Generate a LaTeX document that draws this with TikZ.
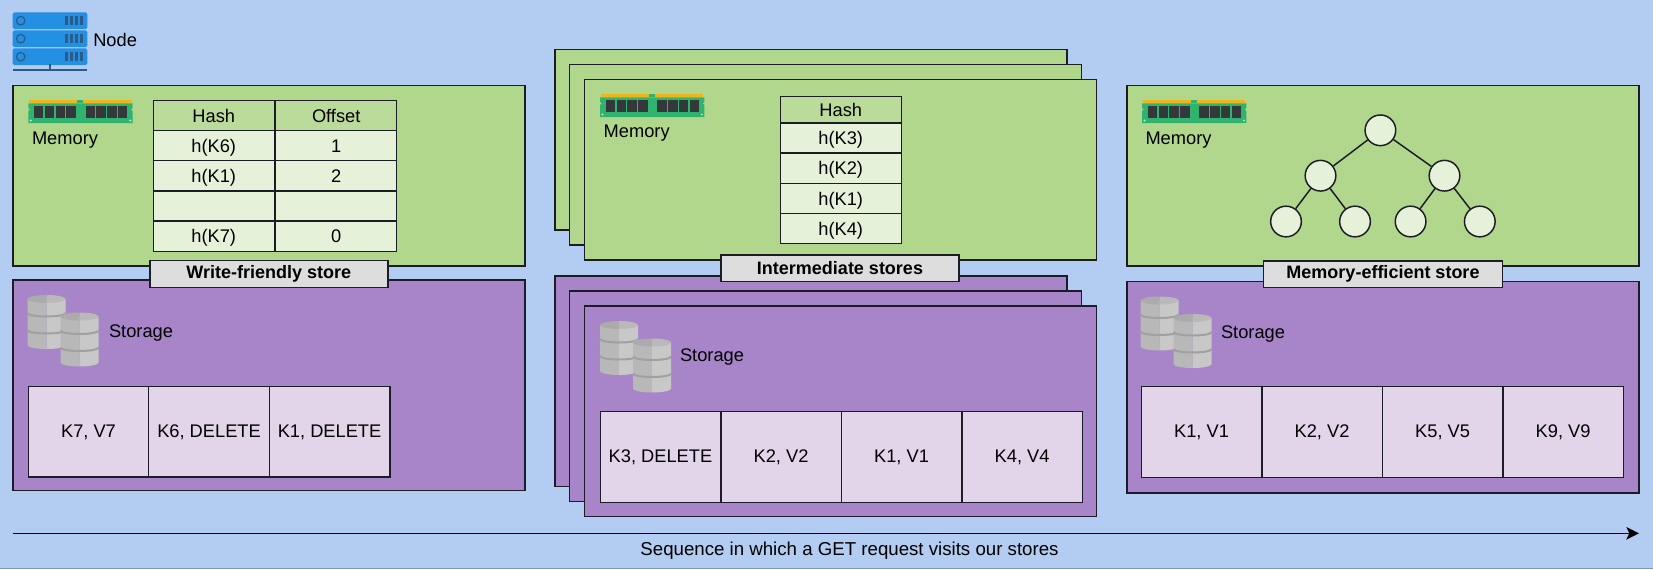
\documentclass[tikz,border=0pt]{standalone}
\usepackage{fontspec}
\setmainfont{Liberation Sans}
\usepackage{xcolor}
\usetikzlibrary{backgrounds}
\usetikzlibrary{arrows.meta,positioning,matrix}
\definecolor{page_background}{HTML}{B3CCF1}
\definecolor{page_edge}{HTML}{8498B6}
\definecolor{memory_fill}{HTML}{B1D78D}
\definecolor{storage_fill}{HTML}{A884C8}
\definecolor{cell_fill}{HTML}{E2D5EA}
\definecolor{row_fill}{HTML}{E6F1D9}
\definecolor{header_fill}{HTML}{BBDB9A}
\definecolor{label_fill}{HTML}{DDDDDD}
\definecolor{edge_colour}{HTML}{1C1C26}
\definecolor{ram_green}{HTML}{2FB36E}
\definecolor{ram_gold}{HTML}{F0B41C}
\definecolor{ram_chip}{HTML}{33383A}
\definecolor{server_blue}{HTML}{2390E3}
\definecolor{server_dark}{HTML}{2B5B87}
\definecolor{disk_dark}{HTML}{B8B8B8}
\definecolor{disk_light}{HTML}{C8C8C8}
\definecolor{disk_top_dark}{HTML}{ABABAB}
\definecolor{disk_top_light}{HTML}{B9B9B9}
\definecolor{disk_band}{HTML}{A0A0A0}
\tikzstyle{outer_box} =[draw=edge_colour,line width=1.1pt,anchor=north west,inner sep=0pt,outer sep=0pt]
\tikzstyle{memory_box} =[outer_box,fill=memory_fill,minimum width=384pt,minimum height=135.5pt]
\tikzstyle{storage_box} =[outer_box,fill=storage_fill,minimum width=384pt]
\tikzstyle{cell} =[draw=edge_colour,line width=1.1pt,fill=cell_fill,inner sep=0pt,outer sep=0pt,minimum width=90.4pt,minimum height=68pt,text height=10.4pt,text depth=1.9pt]
\tikzstyle{table_row} =[draw=edge_colour,line width=1.1pt,fill=row_fill,inner sep=0pt,minimum width=90.75pt,minimum height=22.65pt,text height=11.4pt,text depth=1.4pt]
\tikzstyle{table_header} =[table_row,fill=header_fill]
\tikzstyle{store_label} =[draw=edge_colour,line width=1.1pt,fill=label_fill,inner sep=0pt,minimum height=20pt,font=\fontsize{13.5}{16}\selectfont\bfseries]
\tikzstyle{tree_node} =[circle,draw=edge_colour,line width=1.1pt,fill=row_fill,inner sep=0pt,minimum size=23pt]
\tikzset{
server_icon/.pic={
    \foreach \top in {0,18,36}{
        \fill[server_blue,rounded corners=1.2pt] (0,\top) rectangle (74.6,\top+16.8);
        \draw[server_dark,line width=0.9pt] (8,\top+8.4) circle (3.2pt);
        \foreach \bar in {52.5,57.5,62.5,67.5}
            \fill[server_dark] (\bar,\top+4) rectangle (\bar+2.4,\top+12.8);
    }
    \fill[server_dark] (35.8,52) rectangle (37.8,57);
    \fill[server_dark] (0,56.5) rectangle (74.6,58.7);
},
ram_icon/.pic={
    \fill[ram_green] (0,3.3) -- (104.4,3.3) -- (104.4,8) -- (102.6,9.5) -- (104.4,11) -- (104.4,23) -- (0,23)
        -- (0,11) -- (1.8,9.5) -- (0,8) -- cycle;
    \fill[ram_green] (49,0) rectangle (55,3.3);
    \fill[ram_gold] (1,0) rectangle (49,3.3);
    \fill[ram_gold] (55,0) rectangle (103.4,3.3);
    \foreach \chip in {5.7,16.5,27.3,38.1,57.3,68.1,78.9,89.7}
        \fill[ram_chip] (\chip,5.7) rectangle (\chip+9.4,18);
    \fill[white!70!ram_green] (2.5,20.5) circle (0.8pt) (101.9,20.5) circle (0.8pt);
},
disk/.pic={
    % body, two halves
    \fill[disk_dark] (0,4) -- (0,50) arc[start angle=180,end angle=90,x radius=19,y radius=4] -- (19,4) -- cycle;
    \fill[disk_light] (38,4) -- (38,50) arc[start angle=0,end angle=90,x radius=19,y radius=4] -- (19,4) -- cycle;
    % top face
    \fill[disk_top_dark] (0,4) arc[start angle=180,end angle=90,x radius=19,y radius=4] -- (19,0) arc[start angle=270,end angle=180,x radius=19,y radius=4] -- cycle;
    \fill[disk_top_light] (38,4) arc[start angle=0,end angle=90,x radius=19,y radius=4] -- (19,0) arc[start angle=270,end angle=360,x radius=19,y radius=4] -- cycle;
    % bands
    \draw[disk_band,line width=1.5pt] (0,18) arc[start angle=180,end angle=0,x radius=19,y radius=3.5];
    \draw[disk_band,line width=1.5pt] (0,35) arc[start angle=180,end angle=0,x radius=19,y radius=3.5];
},
database_icon/.pic={
    \pic at (0,0) {disk};
    \pic at (33,17.5) {disk};
}
}
\begin{document}
\begin{tikzpicture}[x=0.75pt,y=-0.75pt,font=\fontsize{13.7}{16}\selectfont,text=black]

    \useasboundingbox (0,0) rectangle (1653,569);
    \fill[page_background] (0,0) rectangle (1653,569);
    \draw[page_edge,line width=0.9pt] (0,568.6) -- (1653,568.6);

    % Node legend
    \pic at (12.7,12.3) {server_icon};
    \node[anchor=west,inner sep=0pt] (node_label) at (93,39.5) {Node};

    % Write-friendly store
    \node[memory_box] (write_memory_box) at (13,85.5) {};
    \node[storage_box,minimum height=158pt] (write_storage_box) at (13,280) {};
    \pic at (28.3,100) {ram_icon};
    \node (write_memory_label) at (65,140) {Memory};
    \matrix [column sep=0pt,row sep=-1.1pt,anchor=north west,inner sep=0pt,outer sep=0pt](write_hash_matrix) at (152.5,99.5)
    {
        \node[table_header]{Hash};  & \node[table_header]{Offset}; \\
        \node[table_row]{h(K6)};    & \node[table_row]{1};         \\
        \node[table_row]{h(K1)};    & \node[table_row]{2};         \\
        \node[table_row]{};         & \node[table_row]{};          \\
        \node[table_row]{h(K7)};    & \node[table_row]{0};         \\
    };
    \pic at (27.5,295) {database_icon};
    \node (write_storage_label) at (141,333) {Storage};
    \matrix [column sep=-1.1pt,anchor=north west,inner sep=0pt,outer sep=0pt](write_cell_matrix) at (27.5,385.5)
    {
        \node[cell]{K7, V7}; & \node[cell]{K6, DELETE}; & \node[cell]{K1, DELETE}; \\
    };
    \node[store_label,minimum width=178.5pt] (write_store_label) at (268.8,274) {Write-friendly store};

    % Intermediate stores
    \node[memory_box] (back_memory_box) at (555,49.5) {};
    \node[memory_box] (middle_memory_box) at (569.5,64.5) {};
    \node[memory_box] (front_memory_box) at (584.5,79.5) {};
    \node[storage_box,minimum height=158pt] (back_storage_box) at (555,276) {};
    \node[storage_box,minimum height=158pt] (middle_storage_box) at (569.5,291) {};
    \node[storage_box,minimum height=158pt] (front_storage_box) at (584.5,306) {};
    \pic at (600,94) {ram_icon};
    \node (front_memory_label) at (636.7,133) {Memory};
    \matrix [row sep=-1.1pt,anchor=north west,inner sep=0pt,outer sep=0pt](front_hash_matrix) at (779.5,95.5)
    {
        \node[table_header,minimum height=20pt]{Hash}; \\
        \node[table_row]{h(K3)}; \\
        \node[table_row]{h(K2)}; \\
        \node[table_row]{h(K1)}; \\
        \node[table_row]{h(K4)}; \\
    };
    \pic at (600,321) {database_icon};
    \node (front_storage_label) at (712,357) {Storage};
    \matrix [column sep=-1.1pt,anchor=north west,inner sep=0pt,outer sep=0pt](front_cell_matrix) at (599.5,411)
    {
        \node[cell]{K3, DELETE}; & \node[cell]{K2, V2}; & \node[cell]{K1, V1}; & \node[cell]{K4, V4}; \\
    };
    \node[store_label,minimum width=178.5pt] (middle_store_label) at (840,268.2) {Intermediate stores};

    % Memory-efficient store
    \node[memory_box] (read_memory_box) at (1127.2,85.5) {};
    \node[storage_box,minimum height=158.5pt] (read_storage_box) at (1126.8,281.5) {};
    \pic at (1142,100) {ram_icon};
    \node (read_memory_label) at (1178.5,140.5) {Memory};
    \node[tree_node] (tree_root) at (1380.4,130.3) {};
    \node[tree_node] (tree_left) at (1320.5,175.7) {};
    \node[tree_node] (tree_right) at (1444.5,175.7) {};
    \node[tree_node] (tree_left_left) at (1286,221.5) {};
    \node[tree_node] (tree_left_right) at (1355,221.5) {};
    \node[tree_node] (tree_right_left) at (1410.6,221.5) {};
    \node[tree_node] (tree_right_right) at (1479.8,221.5) {};
    \draw[edge_colour,line width=1.1pt] (tree_root) -- (tree_left);
    \draw[edge_colour,line width=1.1pt] (tree_root) -- (tree_right);
    \draw[edge_colour,line width=1.1pt] (tree_left) -- (tree_left_left);
    \draw[edge_colour,line width=1.1pt] (tree_left) -- (tree_left_right);
    \draw[edge_colour,line width=1.1pt] (tree_right) -- (tree_right_left);
    \draw[edge_colour,line width=1.1pt] (tree_right) -- (tree_right_right);
    \pic at (1140.5,296.5) {database_icon};
    \node (read_storage_label) at (1253,334) {Storage};
    \matrix [column sep=-1.1pt,anchor=north west,inner sep=0pt,outer sep=0pt](read_cell_matrix) at (1140.5,386)
    {
        \node[cell]{K1, V1}; & \node[cell]{K2, V2}; & \node[cell]{K5, V5}; & \node[cell]{K9, V9}; \\
    };
    \node[store_label,minimum width=179pt] (read_store_label) at (1383,274.3) {Memory-efficient store};

    % Sequence arrow
    \coordinate (sequence_start) at (12.5,533.3);
    \coordinate (sequence_end) at (1639,533.3);
    \draw[-{Stealth[length=9.5pt,width=9.5pt,inset=2.2pt]},line width=1pt,black] (sequence_start) -- (sequence_end);
    \node[font=\fontsize{14}{16}\selectfont] (sequence_label) at (849.5,551) {Sequence in which a GET request visits our stores};

\end{tikzpicture}
\end{document}
